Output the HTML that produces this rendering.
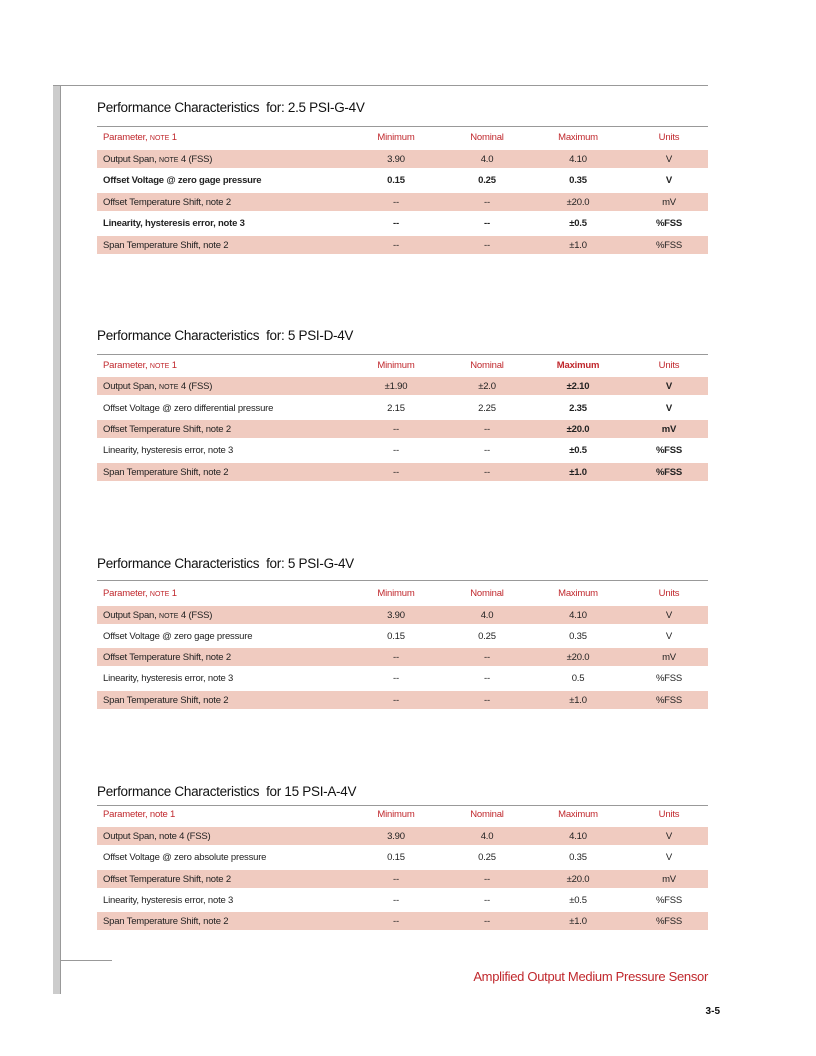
<!DOCTYPE html>
<html><head><meta charset="utf-8"><style>
body{margin:0;background:#fff;}
#p{position:relative;width:816px;height:1056px;overflow:hidden;font-family:"Liberation Sans",sans-serif;color:#222;}
.a{position:absolute}
.t{position:absolute;left:97px;font-size:13.5px;color:#111;letter-spacing:-0.3px}
.l{position:absolute;left:97px;width:611px;height:1px;background:#999}
.r{position:absolute;left:97px;width:611px;height:18px;font-size:9.5px;line-height:20px;letter-spacing:-0.2px}
.pk{background:#f0cbc0}
.r span{position:absolute;top:0;text-align:center;width:80px}
.r span.p{left:6px;text-align:left;width:280px}
.c1{left:259px}.c2{left:350px}.c3{left:441px}.c4{left:532px}
.h{color:#c0282d}
.b{font-weight:bold}
small{font-size:7px;letter-spacing:0}
</style></head><body><div id="p">
<div class="a" style="left:53px;top:85px;width:7px;height:909px;background:#ccc;border-right:1px solid #999"></div>
<div class="a" style="left:53px;top:85px;width:655px;height:1px;background:#999"></div>
<div class="a" style="left:61px;top:960px;width:51px;height:1px;background:#999"></div>

<div class="t" style="top:100px">Performance Characteristics&nbsp; for: 2.5 PSI-G-4V</div>
<div class="l" style="top:126px"></div>
<div class="r h" style="top:128px"><span class="p">Parameter, <small>NOTE</small> 1</span><span class="c1">Minimum</span><span class="c2">Nominal</span><span class="c3">Maximum</span><span class="c4">Units</span></div>
<div class="r pk" style="top:150px"><span class="p">Output Span, <small>NOTE</small> 4 (FSS)</span><span class="c1">3.90</span><span class="c2">4.0</span><span class="c3">4.10</span><span class="c4">V</span></div>
<div class="r b" style="top:171px"><span class="p">Offset Voltage @ zero gage pressure</span><span class="c1">0.15</span><span class="c2">0.25</span><span class="c3">0.35</span><span class="c4">V</span></div>
<div class="r pk" style="top:193px"><span class="p">Offset Temperature Shift, note 2</span><span class="c1">--</span><span class="c2">--</span><span class="c3">±20.0</span><span class="c4">mV</span></div>
<div class="r b" style="top:214px"><span class="p">Linearity, hysteresis error, note 3</span><span class="c1">--</span><span class="c2">--</span><span class="c3">±0.5</span><span class="c4">%FSS</span></div>
<div class="r pk" style="top:236px"><span class="p">Span Temperature Shift, note 2</span><span class="c1">--</span><span class="c2">--</span><span class="c3">±1.0</span><span class="c4">%FSS</span></div>

<div class="t" style="top:328px">Performance Characteristics&nbsp; for: 5 PSI-D-4V</div>
<div class="l" style="top:354px"></div>
<div class="r h" style="top:356px"><span class="p">Parameter, <small>NOTE</small> 1</span><span class="c1">Minimum</span><span class="c2">Nominal</span><span class="c3 b">Maximum</span><span class="c4">Units</span></div>
<div class="r pk" style="top:377px"><span class="p">Output Span, <small>NOTE</small> 4 (FSS)</span><span class="c1">±1.90</span><span class="c2">±2.0</span><span class="c3 b">±2.10</span><span class="c4 b">V</span></div>
<div class="r" style="top:399px"><span class="p">Offset Voltage @ zero differential pressure</span><span class="c1">2.15</span><span class="c2">2.25</span><span class="c3 b">2.35</span><span class="c4 b">V</span></div>
<div class="r pk" style="top:420px"><span class="p">Offset Temperature Shift, note 2</span><span class="c1">--</span><span class="c2">--</span><span class="c3 b">±20.0</span><span class="c4 b">mV</span></div>
<div class="r" style="top:441px"><span class="p">Linearity, hysteresis error, note 3</span><span class="c1">--</span><span class="c2">--</span><span class="c3 b">±0.5</span><span class="c4 b">%FSS</span></div>
<div class="r pk" style="top:463px"><span class="p">Span Temperature Shift, note 2</span><span class="c1">--</span><span class="c2">--</span><span class="c3 b">±1.0</span><span class="c4 b">%FSS</span></div>

<div class="t" style="top:556px">Performance Characteristics&nbsp; for: 5 PSI-G-4V</div>
<div class="l" style="top:580px"></div>
<div class="r h" style="top:584px"><span class="p">Parameter, <small>NOTE</small> 1</span><span class="c1">Minimum</span><span class="c2">Nominal</span><span class="c3">Maximum</span><span class="c4">Units</span></div>
<div class="r pk" style="top:606px"><span class="p">Output Span, <small>NOTE</small> 4 (FSS)</span><span class="c1">3.90</span><span class="c2">4.0</span><span class="c3">4.10</span><span class="c4">V</span></div>
<div class="r" style="top:627px"><span class="p">Offset Voltage @ zero gage pressure</span><span class="c1">0.15</span><span class="c2">0.25</span><span class="c3">0.35</span><span class="c4">V</span></div>
<div class="r pk" style="top:648px"><span class="p">Offset Temperature Shift, note 2</span><span class="c1">--</span><span class="c2">--</span><span class="c3">±20.0</span><span class="c4">mV</span></div>
<div class="r" style="top:669px"><span class="p">Linearity, hysteresis error, note 3</span><span class="c1">--</span><span class="c2">--</span><span class="c3">0.5</span><span class="c4">%FSS</span></div>
<div class="r pk" style="top:691px"><span class="p">Span Temperature Shift, note 2</span><span class="c1">--</span><span class="c2">--</span><span class="c3">±1.0</span><span class="c4">%FSS</span></div>

<div class="t" style="top:784px">Performance Characteristics&nbsp; for 15 PSI-A-4V</div>
<div class="l" style="top:805px"></div>
<div class="r h" style="top:805px"><span class="p">Parameter, note 1</span><span class="c1">Minimum</span><span class="c2">Nominal</span><span class="c3">Maximum</span><span class="c4">Units</span></div>
<div class="r pk" style="top:827px"><span class="p">Output Span, note 4 (FSS)</span><span class="c1">3.90</span><span class="c2">4.0</span><span class="c3">4.10</span><span class="c4">V</span></div>
<div class="r" style="top:848px"><span class="p">Offset Voltage @ zero absolute pressure</span><span class="c1">0.15</span><span class="c2">0.25</span><span class="c3">0.35</span><span class="c4">V</span></div>
<div class="r pk" style="top:870px"><span class="p">Offset Temperature Shift, note 2</span><span class="c1">--</span><span class="c2">--</span><span class="c3">±20.0</span><span class="c4">mV</span></div>
<div class="r" style="top:891px"><span class="p">Linearity, hysteresis error, note 3</span><span class="c1">--</span><span class="c2">--</span><span class="c3">±0.5</span><span class="c4">%FSS</span></div>
<div class="r pk" style="top:912px"><span class="p">Span Temperature Shift, note 2</span><span class="c1">--</span><span class="c2">--</span><span class="c3">±1.0</span><span class="c4">%FSS</span></div>

<div class="a" style="left:440px;width:268px;text-align:right;top:969px;font-size:13px;color:#c0282d;letter-spacing:-0.3px">Amplified Output Medium Pressure Sensor</div>
<div class="a" style="left:680px;width:40px;text-align:right;top:1006px;font-size:10px;font-weight:bold;color:#111">3-5</div>
</div></body></html>
